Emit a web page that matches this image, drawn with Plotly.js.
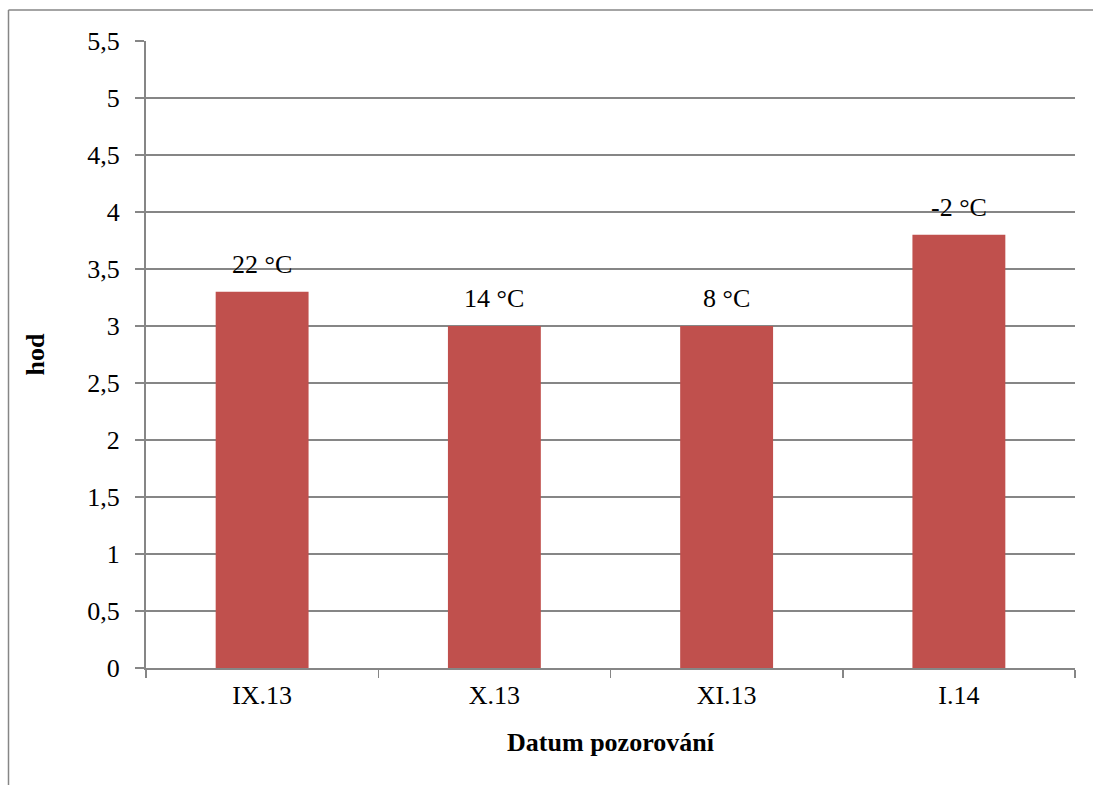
<!DOCTYPE html>
<html>
<head>
<meta charset="utf-8">
<script src="https://cdn.plot.ly/plotly-3.0.1.min.js"></script>
<style>
html,body{margin:0;padding:0;background:#fff;}
#chart{width:1093px;height:785px;}
</style>
</head>
<body>
<div id="chart"></div>
<script>
const categories = ["IX.13", "X.13", "XI.13", "I.14"];
const hours = [3.3, 3.0, 3.0, 3.8];
const temperatureLabels = ["22 °C", "14 °C", "8 °C", "-2 °C"];
const yTickVals = [0, 0.5, 1, 1.5, 2, 2.5, 3, 3.5, 4, 4.5, 5, 5.5];
const yTickText = ["0", "0,5", "1", "1,5", "2", "2,5", "3", "3,5", "4", "4,5", "5", "5,5"];

const serif = "Liberation Serif, Times New Roman, serif";
const FS = 26;
const W = 1093, H = 785, L = 146, R = 18, T = 41, B = 117;
const pw = W - L - R, ph = H - T - B;
const px = x => (x - L) / pw;
const py = y => (H - B - y) / ph;

const trace = {
  type: "bar",
  x: categories,
  y: hours,
  marker: {color: "#C0504D"},
  hoverinfo: "x+y"
};

const annotations = categories.map((c, i) => ({
  x: c, y: hours[i], xref: "x", yref: "y",
  text: temperatureLabels[i],
  showarrow: false,
  yanchor: "bottom",
  yshift: 11,
  font: {family: serif, size: FS, color: "#000"}
}));

const layout = {
  width: W, height: H,
  margin: {l: L, r: R, t: T, b: B, pad: 0},
  paper_bgcolor: "#fff",
  plot_bgcolor: "#fff",
  bargap: 0.6,
  showlegend: false,
  font: {family: serif, size: FS, color: "#000"},
  annotations: annotations,
  xaxis: {
    type: "category",
    showline: true, linecolor: "#868686", linewidth: 2,
    ticks: "outside", tickson: "boundaries", ticklen: 8, tickcolor: "#868686", tickwidth: 1.5,
    ticklabelstandoff: 3,
    showgrid: false,
    tickfont: {family: serif, size: FS, color: "#000"},
    title: {text: "<b>Datum pozorování</b>", font: {family: serif, size: FS, color: "#000"}, standoff: 24}
  },
  yaxis: {
    range: [0, 5.5],
    tickvals: yTickVals, ticktext: yTickText,
    showline: true, linecolor: "#868686", linewidth: 2,
    ticks: "outside", ticklen: 9, tickcolor: "#868686", tickwidth: 1.5,
    ticklabelstandoff: 10,
    showgrid: true, gridcolor: "#868686", gridwidth: 1.5,
    zeroline: false,
    tickfont: {family: serif, size: FS, color: "#000"},
    title: {text: "<b>hod</b>", font: {family: serif, size: FS, color: "#000"}, standoff: 35}
  },
  shapes: [
    {type: "line", xref: "paper", yref: "paper", x0: px(8.5), x1: px(8.5), y0: py(10), y1: py(790), line: {color: "#868686", width: 1.5}},
    {type: "line", xref: "paper", yref: "paper", x0: px(8.5), x1: px(1100), y0: py(10), y1: py(10), line: {color: "#868686", width: 1.5}}
  ]
};

Plotly.newPlot("chart", [trace], layout, {displayModeBar: false, staticPlot: true});
</script>
</body>
</html>
